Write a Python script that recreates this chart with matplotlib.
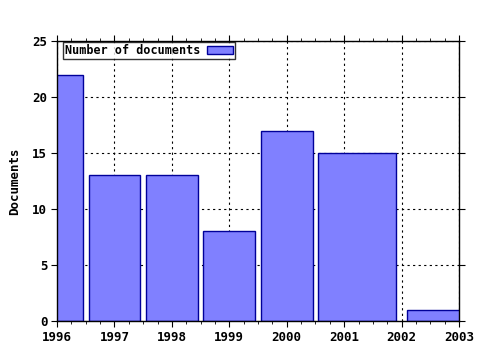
import matplotlib
matplotlib.use("Agg")
import matplotlib.pyplot as plt
import numpy as np
from matplotlib.ticker import MultipleLocator

years = [1996, 1997, 1998, 1999, 2000, 2001, 2003]
docs = [22, 13, 13, 8, 17, 15, 1]

plt.rcParams['font.family'] = ['DejaVu Sans Mono']
plt.rcParams['font.weight'] = 'bold'

fig = plt.figure(figsize=(4.8, 3.5), dpi=100)
ax = fig.add_axes([57/480, 1 - 321/350, (459 - 57)/480, (321 - 41)/350])

# gnuplot-style boxes: each box reaches 0.9 of the way to half the gap with its neighbours
x = np.array(years, dtype=float)
gaps = np.diff(x)
left_half = np.concatenate([[gaps[0]], gaps]) / 2 * 0.9
right_half = np.concatenate([gaps, [gaps[-1]]]) / 2 * 0.9
lefts = x - left_half
widths = left_half + right_half

ax.bar(lefts, docs, width=widths, align='edge', color='#8080ff',
       edgecolor='#000099', linewidth=1, label='Number of documents', zorder=2)

ax.set_xlim(1996, 2003)
ax.set_ylim(0, 25)
ax.xaxis.set_major_locator(MultipleLocator(1))
ax.xaxis.set_minor_locator(MultipleLocator(0.25))
ax.yaxis.set_major_locator(MultipleLocator(5))
ax.tick_params(which='both', direction='out', top=True, right=True, labelsize=9)
ax.tick_params(which='major', length=4)
ax.tick_params(which='minor', length=2)
ax.tick_params(axis='x', which='major', pad=3.5)
ax.tick_params(axis='y', which='major', pad=3)
ax.grid(True, which='major', linestyle=(0, (2, 3)), color='black', linewidth=0.8, zorder=1)
ax.set_axisbelow(True)
for s in ax.spines.values():
    s.set_linewidth(1)
    s.set_zorder(3)

ax.set_ylabel('Documents', fontsize=9, fontweight='bold', labelpad=8)

leg = ax.legend(loc='upper left', bbox_to_anchor=(0.015, 0.995), fontsize=8.5,
                frameon=True, fancybox=False, handlelength=2.2, handleheight=0.6,
                borderpad=0.15, borderaxespad=0, markerfirst=False, handletextpad=0.6)
leg.get_frame().set_edgecolor('black')
leg.get_frame().set_linewidth(1)

fig.savefig('out.png', dpi=100)
